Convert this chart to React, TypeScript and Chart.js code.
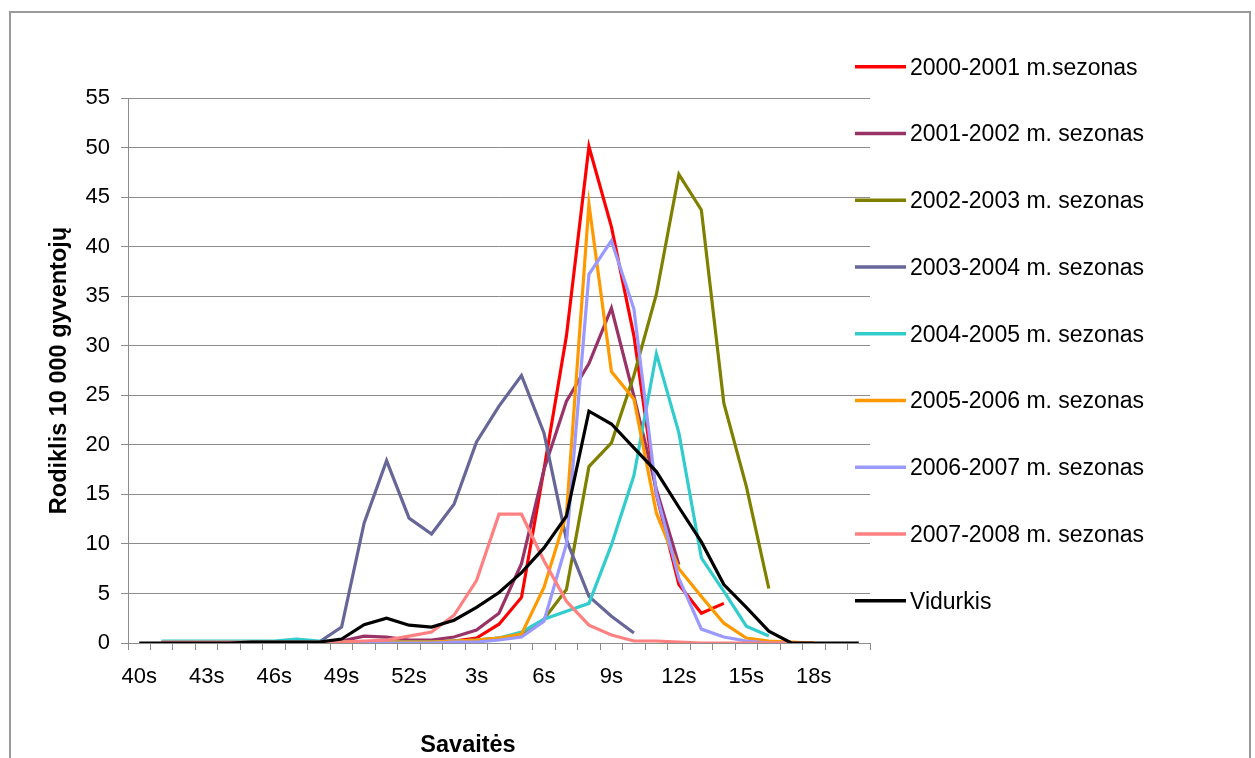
import { useEffect, useRef } from 'react';
import { Chart, registerables } from 'chart.js';

Chart.register(...registerables);

// Weeks of the flu season: 40th week of the year through the 20th week of the next one
const weeks = [
  '40s', '41s', '42s', '43s', '44s', '45s', '46s', '47s', '48s', '49s', '50s', '51s', '52s',
  '1s', '2s', '3s', '4s', '5s', '6s', '7s', '8s', '9s', '10s', '11s', '12s', '13s', '14s',
  '15s', '16s', '17s', '18s', '19s', '20s',
];

// Incidence per 10 000 inhabitants, one array per season (null = no data)
const season2000 = [null, 0, 0, 0, 0, 0, 0, 0, 0, 0.1, 0.1, 0.1, 0.1, 0.1, 0.2, 0.5, 1.9, 4.6, 17.5, 31, 50.1, 42, 31, 15, 5.9, 3.0, 4.0, null, null, null, null, null, null];
const season2001 = [null, 0, 0, 0, 0, 0.1, 0.1, 0.1, 0.1, 0.2, 0.7, 0.6, 0.3, 0.3, 0.6, 1.3, 3.0, 8.0, 17.5, 24.4, 28.2, 33.8, 24.9, 15.5, 7.9, null, null, null, null, null, null, null, null];
const season2002 = [null, 0.15, 0.15, 0.15, 0.15, 0.1, 0.1, 0.1, 0.1, 0.1, 0.1, 0.1, 0.1, 0.1, 0.2, 0.3, 0.5, 0.7, 2.4, 5.4, 17.8, 20.2, 27.0, 35.2, 47.3, 43.7, 24.2, 15.8, 5.5, null, null, null, null];
const season2003 = [null, 0, 0, 0, 0, 0, 0, 0, 0.1, 1.6, 12.1, 18.4, 12.6, 11.0, 14.0, 20.3, 23.9, 27.0, 21.2, 10.4, 4.7, 2.7, 1.0, null, null, null, null, null, null, null, null, null, null];
const season2004 = [null, 0.2, 0.2, 0.2, 0.2, 0.2, 0.2, 0.4, 0.2, 0.1, 0.1, 0.1, 0.1, 0.1, 0.2, 0.3, 0.5, 1.1, 2.4, 3.2, 4.0, 9.9, 16.9, 29.2, 21.2, 8.6, 5.2, 1.7, 0.7, null, null, null, null];
const season2005 = [null, 0, 0, 0, 0, 0, 0.05, 0.05, 0.05, 0.1, 0.1, 0.1, 0.1, 0.1, 0.2, 0.3, 0.5, 0.9, 5.6, 13.0, 44.3, 27.4, 24.6, 13.1, 7.5, 4.7, 2.0, 0.5, 0.2, 0.1, 0, null, null];
const season2006 = [null, 0, 0, 0, 0, 0, 0, 0, 0, 0, 0, 0, 0, 0, 0.1, 0.1, 0.3, 0.6, 2.2, 10.0, 37.2, 40.6, 33.7, 15.1, 6.5, 1.4, 0.6, 0.2, 0, 0, null, null, null];
const season2007 = [null, 0.1, 0.1, 0.1, 0.1, 0.1, 0.1, 0.1, 0.1, 0.1, 0.2, 0.3, 0.7, 1.1, 2.8, 6.3, 13.0, 13.0, 8.3, 4.2, 1.8, 0.8, 0.2, 0.2, 0.1, 0, 0, 0, 0, 0, 0, null, null];
const average = [0, 0, 0, 0, 0, 0.1, 0.1, 0.1, 0.1, 0.4, 1.85, 2.5, 1.8, 1.6, 2.3, 3.6, 5.1, 7.1, 9.6, 12.8, 23.4, 22.1, 19.7, 17.3, 13.7, 10.2, 5.9, 3.6, 1.2, 0, 0, 0, 0];

const seriesLabels = [
  '2000-2001 m.sezonas',
  '2001-2002 m. sezonas',
  '2002-2003 m. sezonas',
  '2003-2004 m. sezonas',
  '2004-2005 m. sezonas',
  '2005-2006 m. sezonas',
  '2006-2007 m. sezonas',
  '2007-2008 m. sezonas',
  'Vidurkis',
];
const seriesData = [season2000, season2001, season2002, season2003, season2004, season2005, season2006, season2007, average];
const seriesColors = ['#FF0000', '#993366', '#808000', '#666699', '#33CCCC', '#FF9900', '#9999FF', '#FF8080', '#000000'];

const yTicksMin = 0;
const yTicksMax = 55;
const yTicksStep = 5;

const FONT = '"Liberation Sans", Arial, sans-serif';
const GRID = '#8c8c8c';

// Frame around the whole chart, the series key on the right and the x-axis title
const decorations = {
  id: 'decorations',
  afterDraw(chart: any) {
    const ctx = chart.ctx as CanvasRenderingContext2D;
    ctx.save();
    ctx.strokeStyle = '#9a9a9a';
    ctx.lineWidth = 2;
    ctx.strokeRect(10, 12, 1240, 800);

    const keyX = 855;
    const keyTop = 66.7;
    const keyStep = 66.75;
    chart.data.datasets.forEach((ds: any, i: number) => {
      const y = keyTop + i * keyStep;
      ctx.strokeStyle = ds.borderColor;
      ctx.lineWidth = 3.5;
      ctx.beginPath();
      ctx.moveTo(keyX, y);
      ctx.lineTo(keyX + 51, y);
      ctx.stroke();
      ctx.fillStyle = '#000';
      ctx.font = `23px ${FONT}`;
      ctx.textAlign = 'left';
      ctx.textBaseline = 'alphabetic';
      ctx.fillText(ds.label, keyX + 55, y + 7.8);
    });

    ctx.fillStyle = '#000';
    ctx.font = `bold 23.5px ${FONT}`;
    ctx.textAlign = 'center';
    ctx.textBaseline = 'alphabetic';
    ctx.fillText('Savaitės', 468, 752);
    ctx.restore();
  },
};

export default function App() {
  const canvasRef = useRef<HTMLCanvasElement | null>(null);

  useEffect(() => {
    if (!canvasRef.current) return;
    const chart = new Chart(canvasRef.current, {
      type: 'line',
      data: {
        labels: weeks,
        datasets: seriesData.map((data, i) => ({
          label: seriesLabels[i],
          data,
          borderColor: seriesColors[i],
          backgroundColor: seriesColors[i],
          borderWidth: 3.2,
          pointRadius: 0,
          pointHoverRadius: 0,
          tension: 0,
          fill: false,
          spanGaps: false,
          order: -i,
        })),
      },
      options: {
        responsive: false,
        animation: false,
        devicePixelRatio: 1,
        layout: { padding: { left: 0, top: 98, right: 385, bottom: 0 } },
        plugins: {
          legend: { display: false },
          title: { display: false },
          tooltip: { enabled: false },
        },
        scales: {
          x: {
            type: 'category',
            offset: true,
            grid: {
              display: true,
              drawOnChartArea: false,
              drawTicks: true,
              tickLength: 7,
              offset: true,
              color: GRID,
              lineWidth: 1,
            },
            border: { display: true, color: GRID, width: 1 },
            ticks: {
              autoSkip: false,
              maxRotation: 0,
              minRotation: 0,
              padding: 14,
              color: '#000',
              font: { size: 22, family: FONT },
              callback: (_v: any, i: number) => (i % 3 === 0 ? weeks[i] : ''),
            },
            afterFit: (scale: any) => {
              scale.height = 115;
            },
          },
          y: {
            min: yTicksMin,
            max: yTicksMax,
            grid: {
              color: GRID,
              lineWidth: 1,
              drawTicks: true,
              tickLength: 7,
            },
            border: { display: true, color: GRID, width: 1 },
            ticks: {
              stepSize: yTicksStep,
              padding: 11,
              color: '#000',
              font: { size: 22, family: FONT },
            },
            title: {
              display: true,
              text: 'Rodiklis 10 000 gyventojų',
              color: '#000',
              font: { size: 23.5, weight: 'bold', family: FONT },
              padding: { top: 45, bottom: 0 },
            },
            afterFit: (scale: any) => {
              scale.width = 128;
            },
          },
        },
      },
      plugins: [decorations],
    });
    return () => chart.destroy();
  }, []);

  return (
    <div style={{ position: 'fixed', left: 0, top: 0, width: 1255, height: 758, background: '#fff' }}>
      <canvas ref={canvasRef} width={1255} height={758} style={{ display: 'block' }} />
    </div>
  );
}
